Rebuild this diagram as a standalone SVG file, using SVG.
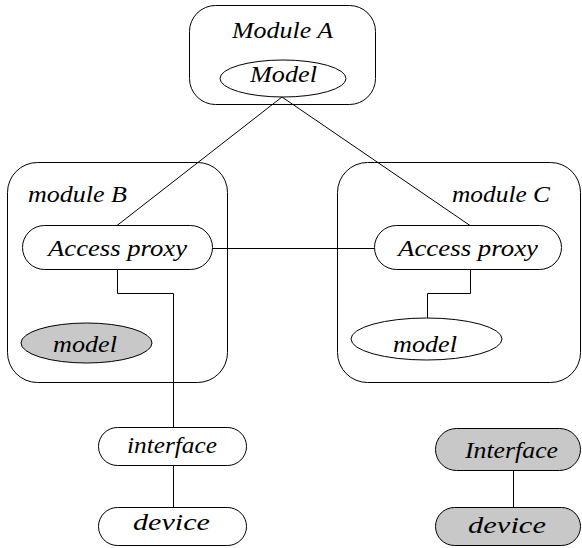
<svg xmlns="http://www.w3.org/2000/svg" width="582" height="548" viewBox="0 0 582 548" font-family="Liberation Serif" font-style="italic" font-size="23">
  <style>
    .box { fill: #ffffff; stroke: #000000; stroke-width: 1; }
    .grey { fill: #c8c8c8; stroke: #000000; stroke-width: 1; }
    .wire { fill: none; stroke: #000000; stroke-width: 1; }
    text { fill: #000000; }
  </style>
  <rect width="582" height="548" fill="#ffffff"/>

  <!-- containers -->
  <g id="moduleA">
    <rect class="box" x="189.5" y="5.5" width="186" height="99" rx="26" ry="26"/>
    <text x="232" y="37.5" textLength="101" lengthAdjust="spacingAndGlyphs">Module A</text>
  </g>
  <g id="moduleB">
    <rect class="box" x="7.5" y="162.5" width="220" height="220" rx="30" ry="30"/>
    <text x="28" y="201.5" textLength="99" lengthAdjust="spacingAndGlyphs">module B</text>
  </g>
  <g id="moduleC">
    <rect class="box" x="337.5" y="162.5" width="243" height="220" rx="30" ry="30"/>
    <text x="452" y="201.5" textLength="98" lengthAdjust="spacingAndGlyphs">module C</text>
  </g>

  <!-- connectors -->
  <g id="connectors">
    <line class="wire" x1="282" y1="97" x2="117" y2="225.5"/>
    <line class="wire" x1="282" y1="97" x2="470" y2="225.5"/>
    <line class="wire" x1="212" y1="248.5" x2="374" y2="248.5"/>
    <polyline class="wire" points="117.5,270 117.5,293.5 173.5,293.5 173.5,427"/>
    <line class="wire" x1="173.5" y1="465" x2="173.5" y2="507"/>
    <polyline class="wire" points="470.5,270 470.5,293.5 427.5,293.5 427.5,318"/>
    <line class="wire" x1="513.5" y1="471" x2="513.5" y2="507"/>
  </g>

  <!-- nodes -->
  <g id="modelA">
    <ellipse class="box" cx="283" cy="78.5" rx="63" ry="18.5"/>
    <text x="250" y="82" textLength="67" lengthAdjust="spacingAndGlyphs">Model</text>
  </g>
  <g id="proxyB">
    <rect class="box" x="22.5" y="225.5" width="190" height="44" rx="22" ry="22"/>
    <text x="48" y="255.5" textLength="139" lengthAdjust="spacingAndGlyphs">Access proxy</text>
  </g>
  <g id="modelB">
    <ellipse class="grey" cx="86.5" cy="343" rx="65.5" ry="20"/>
    <text x="53" y="351.5" textLength="64" lengthAdjust="spacingAndGlyphs">model</text>
  </g>
  <g id="proxyC">
    <rect class="box" x="374.5" y="225.5" width="187" height="44" rx="22" ry="22"/>
    <text x="398" y="255.5" textLength="140" lengthAdjust="spacingAndGlyphs">Access proxy</text>
  </g>
  <g id="modelC">
    <ellipse class="box" cx="426.5" cy="339" rx="75.5" ry="21"/>
    <text x="393" y="352" textLength="64" lengthAdjust="spacingAndGlyphs">model</text>
  </g>
  <g id="interfaceB">
    <rect class="box" x="98.5" y="427.5" width="148" height="38" rx="19" ry="19"/>
    <text x="127" y="453" textLength="90" lengthAdjust="spacingAndGlyphs">interface</text>
  </g>
  <g id="deviceB">
    <rect class="box" x="98.5" y="507.5" width="148" height="38" rx="19" ry="19"/>
    <text x="133" y="530" textLength="77" lengthAdjust="spacingAndGlyphs">device</text>
  </g>
  <g id="interfaceGrey">
    <rect class="grey" x="435.5" y="428.5" width="145" height="42" rx="21" ry="21"/>
    <text x="465" y="458" textLength="93" lengthAdjust="spacingAndGlyphs">Interface</text>
  </g>
  <g id="deviceGrey">
    <rect class="grey" x="435.5" y="507.5" width="145" height="38" rx="19" ry="19"/>
    <text x="468" y="533" textLength="78" lengthAdjust="spacingAndGlyphs">device</text>
  </g>
</svg>
